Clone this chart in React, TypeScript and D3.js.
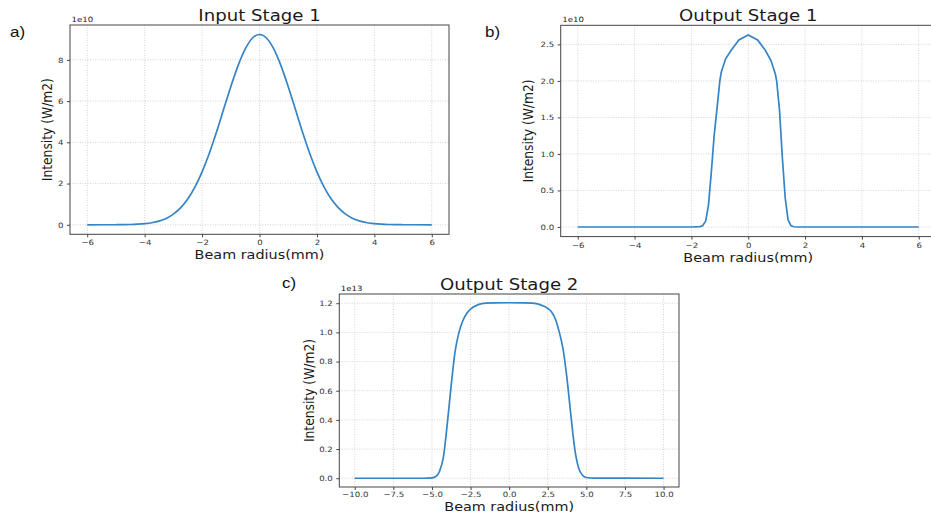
import React, { useEffect, useRef } from "react";
import * as d3 from "d3";

// panel a) Input Stage 1, intensity in units of 1e10 W/m2
const inputX = [-6, -5.5, -5, -4.75, -4.5, -4.25, -4, -3.75, -3.5, -3.25, -3, -2.75, -2.5, -2.25, -2, -1.75, -1.5, -1.25, -1, -0.75, -0.5, -0.25, 0,
  0.25, 0.5, 0.75, 1, 1.25, 1.5, 1.75, 2, 2.25, 2.5, 2.75, 3, 3.25, 3.5, 3.75, 4, 4.25, 4.5, 4.75, 5, 5.5, 6];
const inputY = [0, 0.001, 0.003, 0.007, 0.014, 0.029, 0.055, 0.1, 0.18, 0.31, 0.52, 0.82, 1.25, 1.83, 2.57, 3.46, 4.49, 5.6, 6.7, 7.71, 8.52, 9.05, 9.23,
  9.05, 8.52, 7.71, 6.7, 5.6, 4.49, 3.46, 2.57, 1.83, 1.25, 0.82, 0.52, 0.31, 0.18, 0.1, 0.055, 0.029, 0.014, 0.007, 0.003, 0.001, 0];

// panel b) Output Stage 1, 1e10 W/m2
const out1X = [-6, -2, -1.7, -1.6, -1.5, -1.4, -1.3, -1.2, -1.1, -1.0, -0.95, -0.8, -0.6, -0.33, 0, 0.33, 0.6, 0.8, 0.95, 1.0, 1.1, 1.2, 1.3, 1.4, 1.5, 1.6, 1.7, 6];
const out1Y = [0, 0, 0.005, 0.02, 0.08, 0.3, 0.75, 1.25, 1.62, 2.0, 2.12, 2.3, 2.42, 2.56, 2.63, 2.56, 2.42, 2.28, 2.1, 2.0, 1.6, 0.95, 0.4, 0.1, 0.02, 0.003, 0, 0];

// panel c) Output Stage 2, 1e13 W/m2
const out2X = [-10, -5.5, -5, -4.75, -4.5, -4.25, -4, -3.75, -3.5, -3.25, -3, -2.75, -2.5, -2, -1.5, -1, 0, 1, 1.5, 2, 2.5, 2.75, 3, 3.25, 3.5, 3.75, 4, 4.25, 4.5, 4.75, 5, 5.5, 10];
const out2Y = [0, 0, 0.003, 0.012, 0.05, 0.15, 0.38, 0.64, 0.87, 1.0, 1.08, 1.13, 1.16, 1.19, 1.2, 1.202, 1.203, 1.202, 1.2, 1.19, 1.165, 1.14, 1.09, 1.0, 0.88, 0.68, 0.43, 0.2, 0.07, 0.02, 0.005, 0.001, 0];

const xTicksSmall = [-6, -4, -2, 0, 2, 4, 6];
const xTicksWide = [-10, -7.5, -5, -2.5, 0, 2.5, 5, 7.5, 10];
const yTicksA = [0, 2, 4, 6, 8];
const yTicksB = [0, 0.5, 1, 1.5, 2, 2.5];
const yTicksC = [0, 0.2, 0.4, 0.6, 0.8, 1.0, 1.2];

const SX = 1.17; // the reference image is stretched horizontally
const FONT = "DejaVu Sans, sans-serif";
const LINE = "#3584c6";

const panels = [
  { letter: "a)", title: "Input Stage 1", exp: "1e10", xs: inputX, ys: inputY, xTicks: xTicksSmall, yTicks: yTicksA,
    xFmt: d3.format("d"), yFmt: d3.format("d"), box: [70, 449, 25, 234.3], curve: d3.curveMonotoneX,
    letterPos: [10, 36.5], xLabelY: 259, yLabelX: 51.5, tickPad: 2 },
  { letter: "b)", title: "Output Stage 1", exp: "1e10", xs: out1X, ys: out1Y, xTicks: xTicksSmall, yTicks: yTicksB,
    xFmt: d3.format("d"), yFmt: d3.format(".1f"), box: [560.7, 935.8, 25.3, 236.6], curve: d3.curveLinear,
    letterPos: [485, 36.5], xLabelY: 261.5, yLabelX: 532.5, tickPad: 3.5 },
  { letter: "c)", title: "Output Stage 2", exp: "1e13", xs: out2X, ys: out2Y, xTicks: xTicksWide, yTicks: yTicksC,
    xFmt: d3.format(".1f"), yFmt: d3.format(".1f"), box: [339.3, 679, 294, 487], curve: d3.curveMonotoneX,
    letterPos: [282, 288], xLabelY: 510.5, yLabelX: 314, tickPad: 1.5 },
];

const pad = (ext) => {
  const r = ext[1] - ext[0];
  return [ext[0] - 0.05 * r, ext[1] + 0.05 * r];
};

const App = () => {
  const svgRef = useRef();
  useEffect(() => {
    const svg = d3.select(svgRef.current);
    svg.selectAll("*").remove();
    const txt = (g, x, y, s, size, anchor, rot = false) =>
      g.append("text")
        .attr("transform", `translate(${x},${y}) scale(${SX},1)${rot ? " rotate(-90)" : ""}`)
        .attr("font-family", FONT)
        .attr("font-size", size)
        .attr("text-anchor", anchor)
        .attr("fill", "#1a1a1a")
        .text(s);

    panels.forEach((p) => {
      const [l, r, t, b] = p.box;
      const g = svg.append("g");
      const x = d3.scaleLinear().domain(pad(d3.extent(p.xs))).range([l, r]);
      const y = d3.scaleLinear().domain(pad(d3.extent(p.ys))).range([b, t]);

      // grid
      g.append("g").selectAll("line").data(p.xTicks).join("line")
        .attr("x1", (d) => x(d)).attr("x2", (d) => x(d)).attr("y1", t).attr("y2", b)
        .attr("stroke", "#c8c8c8").attr("stroke-width", 0.8).attr("stroke-dasharray", "1,1.5");
      g.append("g").selectAll("line").data(p.yTicks).join("line")
        .attr("x1", l).attr("x2", r).attr("y1", (d) => y(d)).attr("y2", (d) => y(d))
        .attr("stroke", "#c8c8c8").attr("stroke-width", 0.8).attr("stroke-dasharray", "1,1.5");

      // curve
      const pts = p.xs.map((v, i) => [v, p.ys[i]]);
      g.append("path")
        .attr("d", d3.line().x((d) => x(d[0])).y((d) => y(d[1])).curve(p.curve)(pts))
        .attr("fill", "none").attr("stroke", LINE).attr("stroke-width", 1.7);

      // axes
      const ax = g.append("g").attr("transform", `translate(0,${b})`)
        .call(d3.axisBottom(x).tickValues(p.xTicks).tickFormat((d) => p.xFmt(d).replace("-", "\u2212")).tickSize(3).tickPadding(p.tickPad));
      const ay = g.append("g").attr("transform", `translate(${l},0)`)
        .call(d3.axisLeft(y).tickValues(p.yTicks).tickFormat(p.yFmt).tickSize(3).tickPadding(3.5));
      [ax, ay].forEach((a) => {
        a.select(".domain").remove();
        a.selectAll("line").attr("stroke", "#444");
        a.selectAll("text").attr("font-family", FONT).attr("font-size", 7.35).attr("fill", "#333");
      });
      ax.selectAll("text").attr("transform", `scale(${SX},1)`);
      ay.selectAll("text").attr("transform", `scale(${SX},1)`).attr("x", -6.5 / SX);

      // frame
      g.append("rect").attr("x", l).attr("y", t).attr("width", r - l).attr("height", b - t)
        .attr("fill", "none").attr("stroke", "#444").attr("stroke-width", 1);

      // texts
      txt(g, (l + r) / 2, t - 4.5, p.title, 15.5, "middle");
      txt(g, l + 1.5, t - 3, p.exp, 7.35, "start");
      txt(g, (l + r) / 2, p.xLabelY, "Beam radius(mm)", 12.3, "middle");
      txt(g, p.yLabelX, (t + b) / 2, "Intensity (W/m2)", 12.3, "middle", true);
      g.append("text")
        .attr("transform", `translate(${p.letterPos[0]},${p.letterPos[1]}) scale(${SX},1)`)
        .attr("font-family", "Liberation Sans, Arial, sans-serif").attr("font-size", 14.5).attr("fill", "#111")
        .text(p.letter);
    });
  }, []);
  return (
    <svg ref={svgRef} width={931} height={514}
      style={{ position: "absolute", left: 0, top: 0, background: "#fff" }}></svg>
  );
};

export default App;
